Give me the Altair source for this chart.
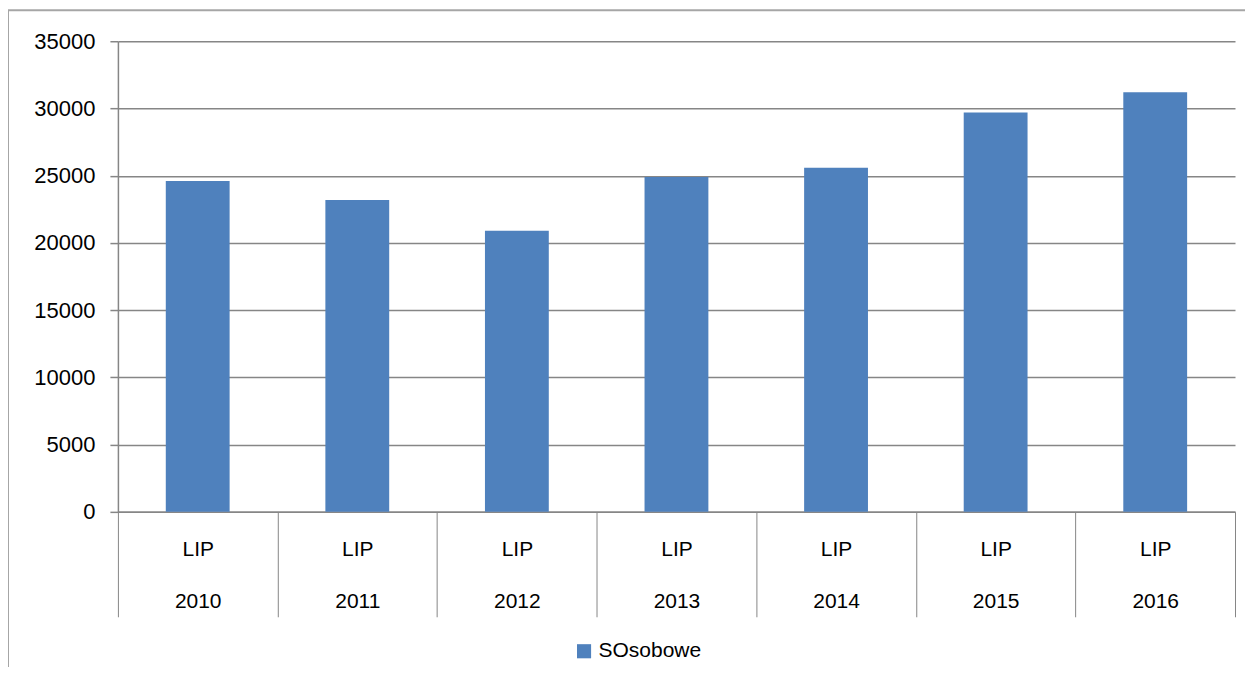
import altair as alt
import pandas as pd

years = ["2010", "2011", "2012", "2013", "2014", "2015", "2016"]
values = [24600, 23200, 20900, 24900, 25600, 29700, 31200]
series = ["SOsobowe"] * len(years)
y_ticks = [0, 5000, 10000, 15000, 20000, 25000, 30000, 35000]

df = pd.DataFrame({"year": years, "value": values, "series": series})

W, H = 1118, 471
GRAY = "#868686"
FONT = "Liberation Sans"

year_list = "[" + ",".join("'" + y + "'" for y in years) + "]"
label_expr = "indexof(" + year_list + ", datum.label) >= 0 ? ['LIP', datum.label] : ''"

bars = alt.Chart(df).mark_bar(width=alt.RelativeBandSize(0.4), color="#4F81BD").encode(
    x=alt.X(
        "year:N",
        scale=alt.Scale(paddingInner=0, paddingOuter=0),
        axis=alt.Axis(
            title=None,
            labelAngle=0,
            labelExpr=label_expr,
            labelLineHeight=52,
            labelFont=FONT,
            labelFontSize=21,
            labelColor="#000000",
            tickBand="extent",
            tickSize=105,
            tickColor=GRAY,
            tickWidth=1,
            labelPadding=-78,
            domainColor=GRAY,
            domainWidth=1.5,
            grid=False,
        ),
    ),
    y=alt.Y(
        "value:Q",
        scale=alt.Scale(domain=[0, 35000], nice=False),
        axis=alt.Axis(
            title=None,
            values=y_ticks,
            format="d",
            labelFont=FONT,
            labelFontSize=22,
            labelColor="#000000",
            labelPadding=15,
            tickSize=8,
            tickColor=GRAY,
            tickWidth=1.5,
            domainColor=GRAY,
            domainWidth=1.5,
            grid=True,
            gridColor=GRAY,
            gridWidth=1.5,
        ),
    ),
    color=alt.Color(
        "series:N",
        scale=alt.Scale(range=["#4F81BD"]),
        legend=alt.Legend(
            title=None,
            orient="none",
            legendX=456,
            legendY=600,
            symbolType="square",
            symbolSize=200,
            symbolStrokeWidth=0,
            labelFont=FONT,
            labelFontSize=21,
            labelColor="#000000",
        ),
    ),
)

frame_df = pd.DataFrame({"k": [0]})
left_border = alt.Chart(frame_df).mark_rule(color="#A6A6A6", strokeWidth=2).encode(
    x=alt.value(-110), y=alt.value(-31), y2=alt.value(H + 160)
)
top_border = alt.Chart(frame_df).mark_rule(color="#A6A6A6", strokeWidth=2).encode(
    x=alt.value(-110), x2=alt.value(W + 20), y=alt.value(-31)
)

chart = (
    alt.layer(bars, left_border, top_border)
    .properties(
        width=W,
        height=H,
        autosize=alt.AutoSizeParams(type="none"),
        padding={"left": 110, "top": 33, "right": 10, "bottom": 155},
    )
    .configure_view(stroke="transparent")
)

chart.save("out.html", embed_options={"renderer": "svg", "actions": False})
